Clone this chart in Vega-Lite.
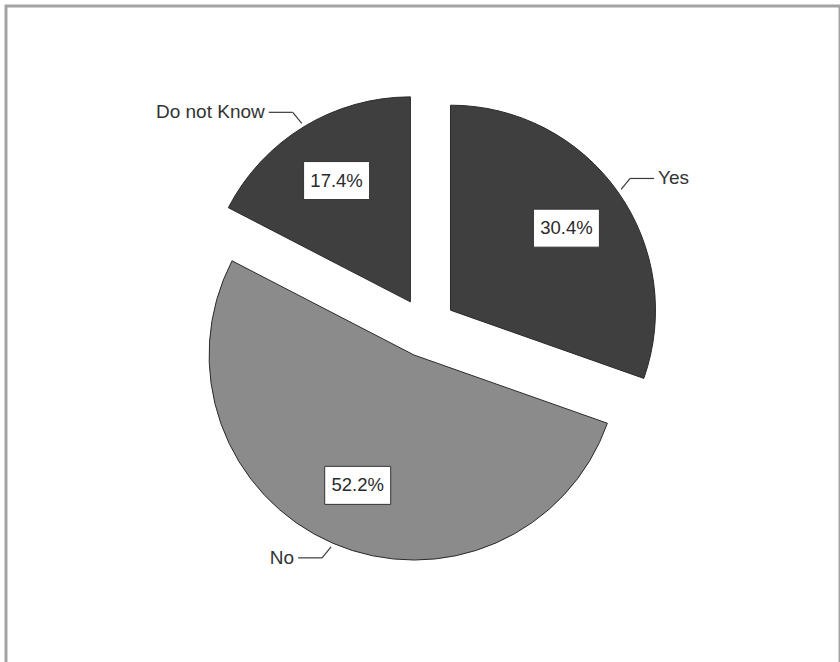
{
  "$schema": "https://vega.github.io/schema/vega-lite/v6.json",
  "width": 834,
  "height": 659,
  "autosize": {"type": "none"},
  "padding": {"left": 6, "top": 6, "right": 0, "bottom": 0},
  "background": "white",
  "config": {"view": {"stroke": "#a3a3a3", "strokeWidth": 3}},
  "data": {"values": [
    {"answer": "Yes", "pct": 30.4, "order": 1},
    {"answer": "No", "pct": 52.2, "order": 2},
    {"answer": "Do not Know", "pct": 17.4, "order": 3}
  ]},
  "transform": [
    {"window": [{"op": "sum", "field": "pct", "as": "cum"}], "sort": [{"field": "order"}], "frame": [null, 0]},
    {"calculate": "datum.cum - datum.pct", "as": "start"},
    {"calculate": "(datum.start + datum.pct / 2) / 100 * 2 * PI", "as": "a"},
    {"calculate": "sin(datum.a) * 30", "as": "ox"},
    {"calculate": "cos(datum.a) * 30", "as": "oy"},
    {"calculate": "datum.ox + sin(datum.a) * 142", "as": "bx"},
    {"calculate": "datum.oy + cos(datum.a) * 142", "as": "by"},
    {"calculate": "datum.ox + sin(datum.a) * 209", "as": "tx"},
    {"calculate": "datum.oy + cos(datum.a) * 209", "as": "ty"},
    {"calculate": "sin(datum.a) >= 0 ? 1 : -1", "as": "s"},
    {"calculate": "cos(datum.a) >= 0 ? 1 : -1", "as": "c"},
    {"calculate": "datum.tx + datum.s * 9", "as": "ex"},
    {"calculate": "datum.ty + datum.c * 11", "as": "ey"},
    {"calculate": "datum.ex + datum.s * 24", "as": "lx"},
    {"calculate": "datum.lx + datum.s * 4", "as": "labx"},
    {"calculate": "datum.pct / 100", "as": "frac"}
  ],
  "layer": [
    {
      "mark": {"type": "arc", "radius": 205, "stroke": "#2b2b2b", "strokeWidth": 1},
      "encoding": {
        "theta": {"field": "start", "type": "quantitative", "scale": {"domain": [0, 100]}},
        "theta2": {"field": "cum"},
        "x": {"field": "ox", "type": "quantitative", "axis": null, "scale": {"domain": [-420, 414], "nice": false, "zero": false}},
        "y": {"field": "oy", "type": "quantitative", "axis": null, "scale": {"domain": [-337.5, 321.5], "nice": false, "zero": false}},
        "color": {"field": "answer", "type": "nominal", "legend": null, "scale": {"domain": ["Yes", "No", "Do not Know"], "range": ["#3f3f3f", "#8b8b8b", "#3f3f3f"]}}
      }
    },
    {
      "mark": {"type": "point", "shape": "M-1,-0.576L1,-0.576L1,0.576L-1,0.576Z", "size": 4356, "filled": true, "fill": "white", "stroke": "#333333", "strokeWidth": 1, "opacity": 1},
      "encoding": {
        "x": {"field": "bx", "type": "quantitative"},
        "y": {"field": "by", "type": "quantitative"}
      }
    },
    {
      "mark": {"type": "text", "font": "Liberation Sans", "fontSize": 18.5, "fill": "#2a2a2a", "align": "center", "baseline": "middle"},
      "encoding": {
        "x": {"field": "bx", "type": "quantitative"},
        "y": {"field": "by", "type": "quantitative"},
        "text": {"field": "frac", "type": "quantitative", "format": ".1%"}
      }
    },
    {
      "mark": {"type": "rule", "stroke": "#3a3a3a", "strokeWidth": 1.2},
      "encoding": {
        "x": {"field": "tx", "type": "quantitative"},
        "y": {"field": "ty", "type": "quantitative"},
        "x2": {"field": "ex"},
        "y2": {"field": "ey"}
      }
    },
    {
      "mark": {"type": "rule", "stroke": "#3a3a3a", "strokeWidth": 1.2},
      "encoding": {
        "x": {"field": "ex", "type": "quantitative"},
        "y": {"field": "ey", "type": "quantitative"},
        "x2": {"field": "lx"},
        "y2": {"field": "ey"}
      }
    },
    {
      "transform": [{"filter": "datum.s > 0"}],
      "mark": {"type": "text", "font": "Liberation Sans", "fontSize": 19, "fill": "#333333", "align": "left", "baseline": "middle"},
      "encoding": {
        "x": {"field": "labx", "type": "quantitative"},
        "y": {"field": "ey", "type": "quantitative"},
        "text": {"field": "answer", "type": "nominal"}
      }
    },
    {
      "transform": [{"filter": "datum.s < 0"}],
      "mark": {"type": "text", "font": "Liberation Sans", "fontSize": 19, "fill": "#333333", "align": "right", "baseline": "middle"},
      "encoding": {
        "x": {"field": "labx", "type": "quantitative"},
        "y": {"field": "ey", "type": "quantitative"},
        "text": {"field": "answer", "type": "nominal"}
      }
    }
  ]
}
